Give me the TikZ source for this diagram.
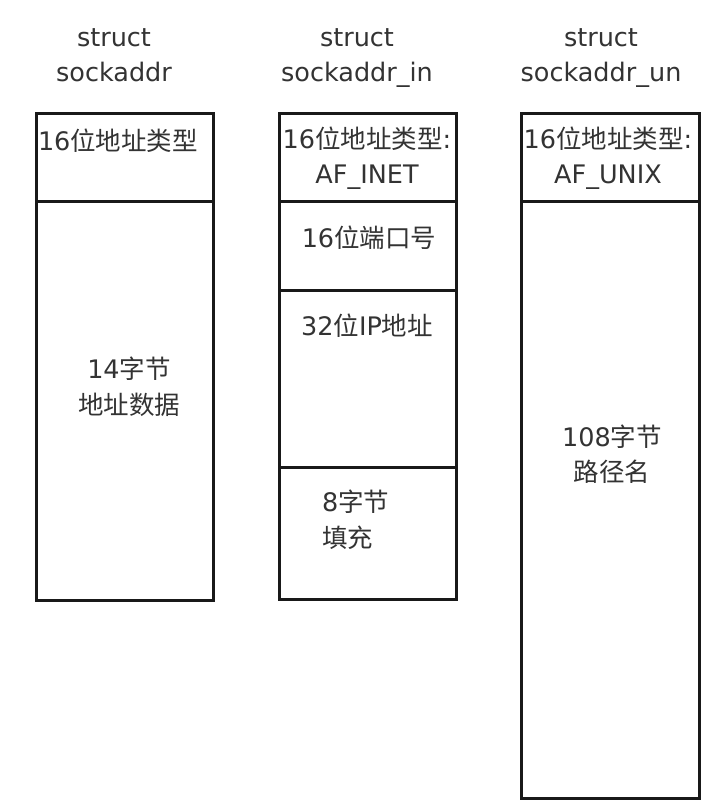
\documentclass[tikz,border=0pt]{standalone}
\usepackage{fontspec}
\setmainfont{DejaVu Sans}
\newfontfamily\cjkfont{Noto Sans CJK SC}
\newcommand\zh[1]{{\cjkfont #1}}
\begin{document}
\begin{tikzpicture}[x=1pt,y=-1pt,
  cell/.style={draw=black!90, line width=3.4pt, anchor=north west, inner sep=0pt, minimum width=177pt},
  lbl/.style={inner sep=0pt, align=center, text=black!80, font=\fontsize{25.5}{35.5}\selectfont},
  lbll/.style={inner sep=0pt, align=left, anchor=west, text=black!80, font=\fontsize{25.5}{36}\selectfont}]
\useasboundingbox[fill=white] (0,0) rectangle (727,802);
% titles
\node[lbl] (t1) at (114,55) {struct\\sockaddr};
\node[lbl] (t2) at (357,58) {struct\\sockaddr\_in};
\node[lbl] (t3) at (601,58) {struct\\sockaddr\_un};
% box 1
\node[cell, minimum height=88pt] (a1) at (35,112) {};
\node[cell, minimum height=399pt] (a2) at (35,200) {};
% box 2
\node[cell, minimum height=88pt] (b1) at (278,112) {};
\node[cell, minimum height=89pt] (b2) at (278,200) {};
\node[cell, minimum height=177pt] (b3) at (278,289) {};
\node[cell, minimum height=132pt] (b4) at (278,466) {};
% box 3
\node[cell, minimum width=178pt, minimum height=88pt] (c1) at (520,112) {};
\node[cell, minimum width=178pt, minimum height=597pt] (c2) at (520,200) {};
% texts
\node[lbl] (a1t) at (118,141) {16\zh{位地址类型}};
\node[lbl] (a2t) at (129,387) {14\zh{字节}\\\zh{地址数据}};
\node[lbl] (b1t) at (367,158) {16\zh{位地址类型}:\\AF\_INET};
\node[lbl] (b2t) at (369,238) {16\zh{位端口号}};
\node[lbl] (b3t) at (367,326) {32\zh{位}IP\zh{地址}};
\node[lbll] (b4t) at (322,520) {8\zh{字节}\\\zh{填充}};
\node[lbl] (c1t) at (608,158) {16\zh{位地址类型}:\\AF\_UNIX};
\node[lbl] (c2t) at (612,454) {108\zh{字节}\\\zh{路径名}};
\end{tikzpicture}
\end{document}
